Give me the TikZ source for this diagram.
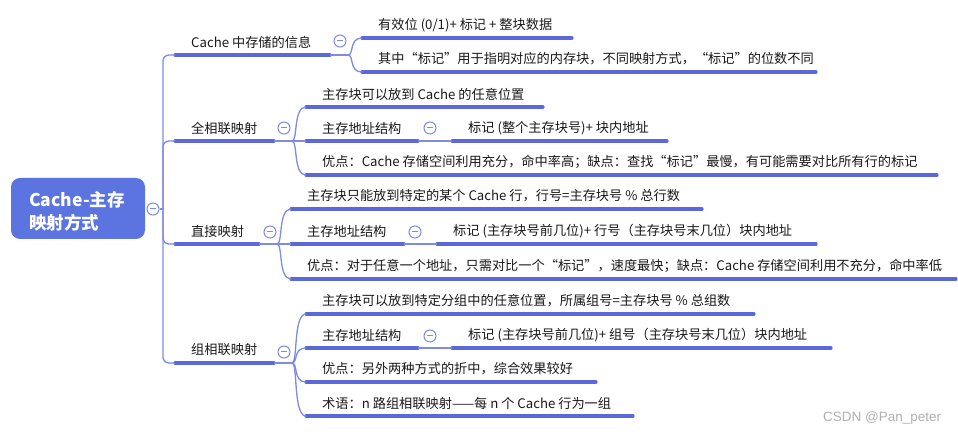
\documentclass[tikz,border=0pt]{standalone}
\usepackage{fontspec}
\setmainfont{Noto Sans CJK SC}
\newfontfamily\wmfont{Liberation Sans}
\definecolor{rootblue}{HTML}{5C74DF}
\definecolor{uline}{HTML}{5B68D9}
\definecolor{thinc}{HTML}{7F8BE3}
\definecolor{txtc}{HTML}{1A1A1A}
\definecolor{wmgray}{HTML}{B0B0B0}
\tikzset{
  ul/.style={draw=uline, line width=3.2pt, line cap=round},
  conn/.style={draw=thinc, line width=1.3pt},
  txt/.style={anchor=west, inner sep=0pt, text=txtc, font=\fontsize{13.2}{15}\selectfont},
  coll/.style={circle, draw=thinc, line width=1pt, fill=white, minimum size=12pt, inner sep=0pt,
    path picture={\draw[thinc, line width=1pt] ([xshift=-2.6pt]path picture bounding box.center) -- ([xshift=2.6pt]path picture bounding box.center);}},
  rootbox/.style={rounded corners=9pt, fill=rootblue, minimum width=134pt, minimum height=61pt, inner sep=0pt},
}
% \topic{name}{x0}{x1}{y}{text}
\newcommand{\topic}[5]{%
  \coordinate (#1-l) at (#2,#4);
  \coordinate (#1-r) at (#3,#4);
  \draw[ul] (#1-l) -- (#1-r);
  \node[txt] (#1) at ([xshift=16pt,yshift=13pt]#1-l) {#5};
}
% \brc{from}{to}
\newcommand{\brc}[2]{%
  \draw[conn] (#1) .. controls ([xshift=6pt]#1) and ([xshift=-13pt]#2) .. (#2);
}
\begin{document}
\begin{tikzpicture}[x=1pt, y=-1pt]
\useasboundingbox (0,0) rectangle (958,435);
\fill[white] (0,0) rectangle (958,435);

% root
\node[rootbox] (root) at (78,208.5) {};
\node[anchor=west, inner sep=0pt, text=white, align=left,
  font=\fontsize{17.5}{22.5}\selectfont\bfseries] (roottxt) at (29,211.5) {Cache-主存\\映射方式};
\node[coll] (rc) at (153,209) {};
\coordinate (trunk) at (163,209);

% level-1 topics
\topic{b1}{175}{330}{55}{Cache 中存储的信息}
\topic{b2}{175}{274}{141}{全相联映射}
\topic{b3}{175}{259}{244}{直接映射}
\topic{b4}{175}{274}{363}{组相联映射}

\draw[conn] (rc.east) -- (trunk);
\foreach \b in {b1,b2,b3,b4}{
  \draw[conn, rounded corners=6pt] (trunk) |- (\b-l);
}

% b1 children
\coordinate (s1) at (348,55);
\draw[conn] (b1-r) -- (s1);
\node[coll] (b1c) at (340,41) {};
\topic{b1a}{362}{572}{38}{有效位 (0/1)+ 标记 + 整块数据}
\topic{b1b}{362}{816}{72}{其中“标记”用于指明对应的内存块，不同映射方式，“标记”的位数不同}
\brc{s1}{b1a-l}
\brc{s1}{b1b-l}

% b2 children
\coordinate (s2) at (292,141);
\draw[conn] (b2-r) -- (s2);
\node[coll] (b2c) at (284,128) {};
\topic{b2a}{306}{543}{107}{主存块可以放到 Cache 的任意位置}
\topic{b2b}{306}{418}{141}{主存地址结构}
\topic{b2c1}{452}{667}{141}{标记 (整个主存块号)+ 块内地址}
\topic{b2d}{306}{937}{175}{优点：Cache 存储空间利用充分，命中率高；缺点：查找“标记”最慢，有可能需要对比所有行的标记}
\brc{s2}{b2a-l}
\draw[conn] (s2) -- (b2b-l);
\brc{s2}{b2d-l}
\draw[conn] (b2b-r) -- (b2c1-l);
\node[coll] (b2bc) at (430,128) {};

% b3 children
\coordinate (s3) at (277,244);
\draw[conn] (b3-r) -- (s3);
\node[coll] (b3c) at (270,232) {};
\topic{b3a}{291}{702}{209}{主存块只能放到特定的某个 Cache 行，行号=主存块号 \% 总行数}
\topic{b3b}{291}{404}{244}{主存地址结构}
\topic{b3c1}{437}{816}{244}{标记 (主存块号前几位)+ 行号（主存块号末几位）块内地址}
\topic{b3d}{291}{956}{279}{优点：对于任意一个地址，只需对比一个“标记”，速度最快；缺点：Cache 存储空间利用不充分，命中率低}
\brc{s3}{b3a-l}
\draw[conn] (s3) -- (b3b-l);
\brc{s3}{b3d-l}
\draw[conn] (b3b-r) -- (b3c1-l);
\node[coll] (b3bc) at (415,232) {};

% b4 children
\coordinate (s4) at (292,363);
\draw[conn] (b4-r) -- (s4);
\node[coll] (b4c) at (284,352) {};
\topic{b4a}{306}{754}{314}{主存块可以放到特定分组中的任意位置，所属组号=主存块号 \% 总组数}
\topic{b4b}{306}{418}{348}{主存地址结构}
\topic{b4c1}{452}{831}{348}{标记 (主存块号前几位)+ 组号（主存块号末几位）块内地址}
\topic{b4d}{306}{596}{382}{优点：另外两种方式的折中，综合效果较好}
\topic{b4e}{306}{633}{416}{术语：n 路组相联映射——每 n 个 Cache 行为一组}
\brc{s4}{b4a-l}
\brc{s4}{b4b-l}
\brc{s4}{b4d-l}
\brc{s4}{b4e-l}
\draw[conn] (b4b-r) -- (b4c1-l);
\node[coll] (b4bc) at (430,336) {};

% watermark
\node[anchor=west, inner sep=0pt, text=wmgray, font=\wmfont\fontsize{13.5}{15}\selectfont] (wm) at (823,418) {CSDN @Pan\_peter};
\end{tikzpicture}
\end{document}
